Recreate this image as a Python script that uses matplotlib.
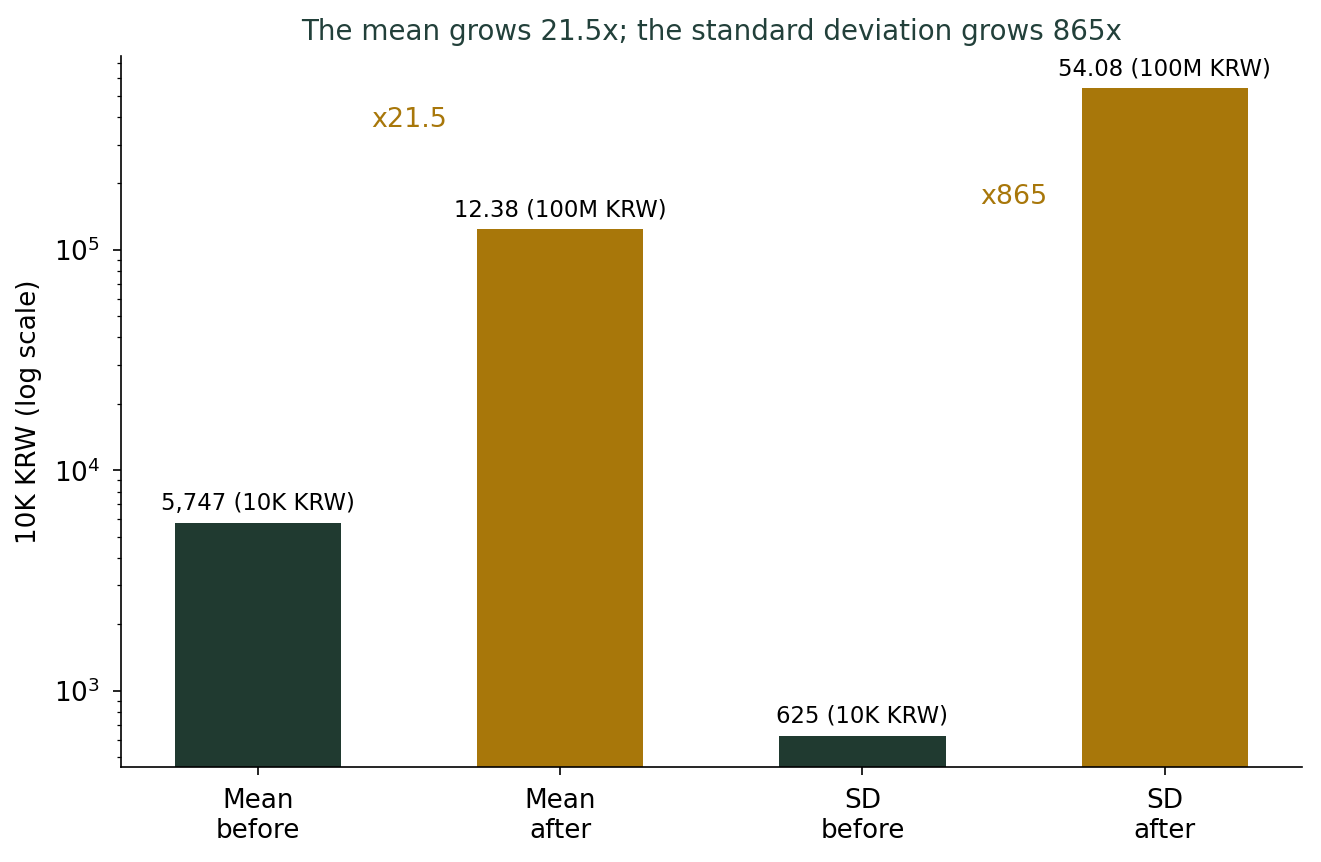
import matplotlib.pyplot as plt

DARK = "#203a30"
GOLD = "#a8770a"

categories = ["Mean\nbefore", "Mean\nafter", "SD\nbefore", "SD\nafter"]
values = [5747, 123800, 625, 540800]  # 10K KRW
bar_labels = ["5,747 (10K KRW)", "12.38 (100M KRW)", "625 (10K KRW)", "54.08 (100M KRW)"]
ratio_labels = ["x21.5", "x865"]
ratio_x = [0.5, 2.5]
ratio_y = [390000, 175000]


def main():
    fig, ax = plt.subplots(figsize=(8.81, 5.75), dpi=150)
    fig.subplots_adjust(left=0.0915, right=0.985, top=0.935, bottom=0.11)

    x = list(range(len(categories)))
    colors = [DARK, GOLD, DARK, GOLD]
    ax.bar(x, values, width=0.55, color=colors)
    ax.set_yscale("log")
    ax.set_ylim(450, 760000)

    for xi, v, lab in zip(x, values, bar_labels):
        ax.annotate(lab, (xi, v), xytext=(0, 4), textcoords="offset points",
                    ha="center", va="bottom", fontsize=10.9)

    for rx, ry, lab in zip(ratio_x, ratio_y, ratio_labels):
        ax.text(rx, ry, lab, ha="center", va="center", fontsize=12.9, color=GOLD)

    ax.set_xticks(x)
    ax.set_xticklabels(categories, fontsize=12.6)
    ax.tick_params(axis="both", which="major", length=4, pad=6)
    ax.tick_params(axis="y", labelsize=12.6)
    ax.set_ylabel("10K KRW (log scale)", fontsize=12.6, labelpad=5.5)
    ax.set_title("The mean grows 21.5x; the standard deviation grows 865x",
                 fontsize=13.3, color="#22403a", pad=7.5)
    ax.spines["top"].set_visible(False)
    ax.spines["right"].set_visible(False)

    plt.savefig("out.png", dpi=150)
    plt.close()


if __name__ == "__main__":
    main()
